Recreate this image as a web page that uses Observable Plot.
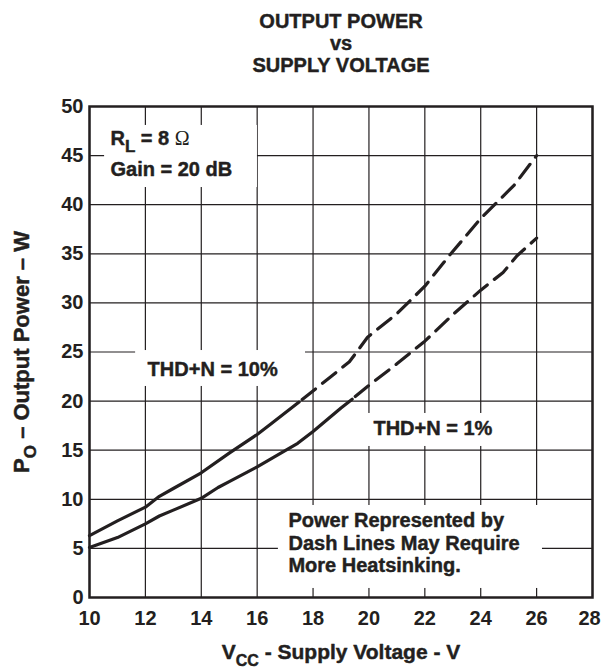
<!DOCTYPE html>
<html>
<head>
<meta charset="utf-8">
<script src="https://cdn.jsdelivr.net/npm/d3@7"></script>
<script src="https://cdn.jsdelivr.net/npm/@observablehq/plot@0.6"></script>
<style>
  html, body { margin: 0; padding: 0; background: #fff; }
  svg { display: block; }
</style>
</head>
<body>
<div id="chart"></div>
<script>
// ---- text ----
const titleLines = ["OUTPUT POWER", "vs", "SUPPLY VOLTAGE"];
const xLabel = "VCC - Supply Voltage - V";
const yLabel = "PO – Output Power – W";

// ---- ticks ----
const xTicks = [10, 12, 14, 16, 18, 20, 22, 24, 26, 28];
const yTicks = [0, 5, 10, 15, 20, 25, 30, 35, 40, 45, 50];

// ---- series: THD+N = 10% ----
const vcc10Solid = [10, 11, 12, 12.5, 13, 14, 15, 16, 16.5, 17.5];
const po10Solid  = [6.3, 7.8, 9.2, 10.3, 11.1, 12.7, 14.7, 16.6, 17.7, 19.9];
const vcc10Dash  = [17.5, 18.6, 19.3, 19.95, 21.0, 22.0, 22.9, 24.0, 25.2, 26.0];
const po10Dash   = [19.9, 22.4, 24.0, 26.5, 28.9, 31.7, 34.9, 38.6, 42.0, 45.0];

// ---- series: THD+N = 1% ----
const vcc1Solid = [10, 11, 12, 12.5, 13, 14, 14.6, 15, 16, 16.6, 17.45, 18, 19, 19.4];
const po1Solid  = [5.1, 6.1, 7.5, 8.3, 8.9, 10.1, 11.2, 11.8, 13.3, 14.3, 15.7, 16.9, 19.3, 20.2];
const vcc1Dash  = [19.4, 20.0, 21.0, 22.0, 23.0, 24.0, 24.8, 25.3, 26.0];
const po1Dash   = [20.2, 21.6, 23.8, 26.1, 28.8, 31.3, 33.1, 34.8, 36.6];

// ---- annotations (data units) ----
const annoTexts = [
  {x: 10.75, y: 46.03, text: "RL = 8 Ω"},
  {x: 10.75, y: 42.97, text: "Gain = 20 dB"},
  {x: 12.08, y: 22.6,  text: "THD+N = 10%"},
  {x: 20.16, y: 16.5,  text: "THD+N = 1%"},
  {x: 17.12, y: 2.55,  text: "Power Represented by\nDash Lines May Require\nMore Heatsinking."}
];
const annoBoxes = [
  {x1: 10.54, x2: 16.01, y1: 41.75, y2: 48.07},
  {x1: 11.65, x2: 17.73, y1: 21.49, y2: 25.15},
  {x1: 19.52, x2: 24.71, y1: 15.38, y2: 18.74},
  {x1: 16.76, x2: 26.21, y1: 0.92,  y2: 9.37}
];

const toRows = (xs, ys) => xs.map((v, i) => ({v, p: ys[i]}));
const ink = "#231f20";
const heavy = {fill: ink, stroke: ink, strokeWidth: 0.45, paintOrder: "normal"};

const chart = Plot.plot({
  width: 601,
  height: 668,
  marginLeft: 89,
  marginRight: 9,
  marginTop: 106,
  marginBottom: 71,
  style: {fontFamily: "'Liberation Sans', Arial, sans-serif", fontSize: "20px", fontWeight: "bold", color: ink, background: "#fff"},
  x: {domain: [10, 28]},
  y: {domain: [0, 50]},
  marks: [
    Plot.gridX(xTicks, {stroke: ink, strokeOpacity: 1, strokeWidth: 1.2}),
    Plot.gridY(yTicks, {stroke: ink, strokeOpacity: 1, strokeWidth: 1.2}),
    Plot.rect(annoBoxes, {x1: "x1", x2: "x2", y1: "y1", y2: "y2", fill: "white"}),
    Plot.line(toRows(vcc10Solid, po10Solid), {x: "v", y: "p", stroke: ink, strokeWidth: 3.2}),
    Plot.line(toRows(vcc10Dash, po10Dash), {x: "v", y: "p", stroke: ink, strokeWidth: 3.2, strokeDasharray: "17,9", strokeDashoffset: -4}),
    Plot.line(toRows(vcc1Solid, po1Solid), {x: "v", y: "p", stroke: ink, strokeWidth: 3.2}),
    Plot.line(toRows(vcc1Dash, po1Dash), {x: "v", y: "p", stroke: ink, strokeWidth: 3.2, strokeDasharray: "17,9", strokeDashoffset: -4}),
    Plot.frame({stroke: ink, strokeWidth: 2.5}),
    Plot.axisX(xTicks.slice(0, -1), {tickSize: 0, tickPadding: 13, label: null, ...heavy}),
    Plot.axisX(xTicks.slice(-1), {tickSize: 0, tickPadding: 13, label: null, dx: -3, ...heavy}),
    Plot.axisY(yTicks, {tickSize: 0, tickPadding: 6, label: null, ...heavy}),
    Plot.text(annoTexts, {x: "x", y: "y", text: "text", textAnchor: "start", lineAnchor: "bottom", lineHeight: 1.125, ...heavy}),
    Plot.text([titleLines.join("\n")], {frameAnchor: "top", dy: -35, lineAnchor: "bottom", textAnchor: "middle", lineHeight: 1.1, ...heavy}),
    Plot.text([xLabel], {frameAnchor: "bottom", dy: 61, lineAnchor: "bottom", textAnchor: "middle", fontSize: 21, ...heavy}),
    Plot.text([yLabel], {frameAnchor: "left", dx: -61, rotate: -90, lineAnchor: "bottom", textAnchor: "middle", fontSize: 22, ...heavy})
  ]
});

document.getElementById("chart").appendChild(chart);

// subscripts and symbol glyphs as real tspans
function rebuild(full, parts) {
  d3.select(chart).selectAll("text").filter(function () { return this.textContent === full; })
    .each(function () {
      const t = d3.select(this);
      t.text(null);
      for (const p of parts) {
        const s = t.append("tspan").text(p.t);
        if (p.dy) s.attr("dy", p.dy);
        if (p.fs) s.attr("font-size", p.fs);
        if (p.ff) s.attr("font-family", p.ff);
        if (p.fw) s.attr("font-weight", p.fw).attr("stroke-width", 0);
      }
    });
}
rebuild("RL = 8 Ω", [
  {t: "R"}, {t: "L", dy: 7, fs: 17}, {t: " = 8 ", dy: -7},
  {t: "Ω", ff: "'Liberation Serif', 'DejaVu Serif', serif", fw: "normal"}
]);
rebuild(xLabel, [{t: "V"}, {t: "CC", dy: 7, fs: 16}, {t: " - Supply Voltage - V", dy: -7}]);
rebuild(yLabel, [{t: "P"}, {t: "O", dy: 7, fs: 17}, {t: " – Output Power – W", dy: -7}]);
</script>
</body>
</html>
